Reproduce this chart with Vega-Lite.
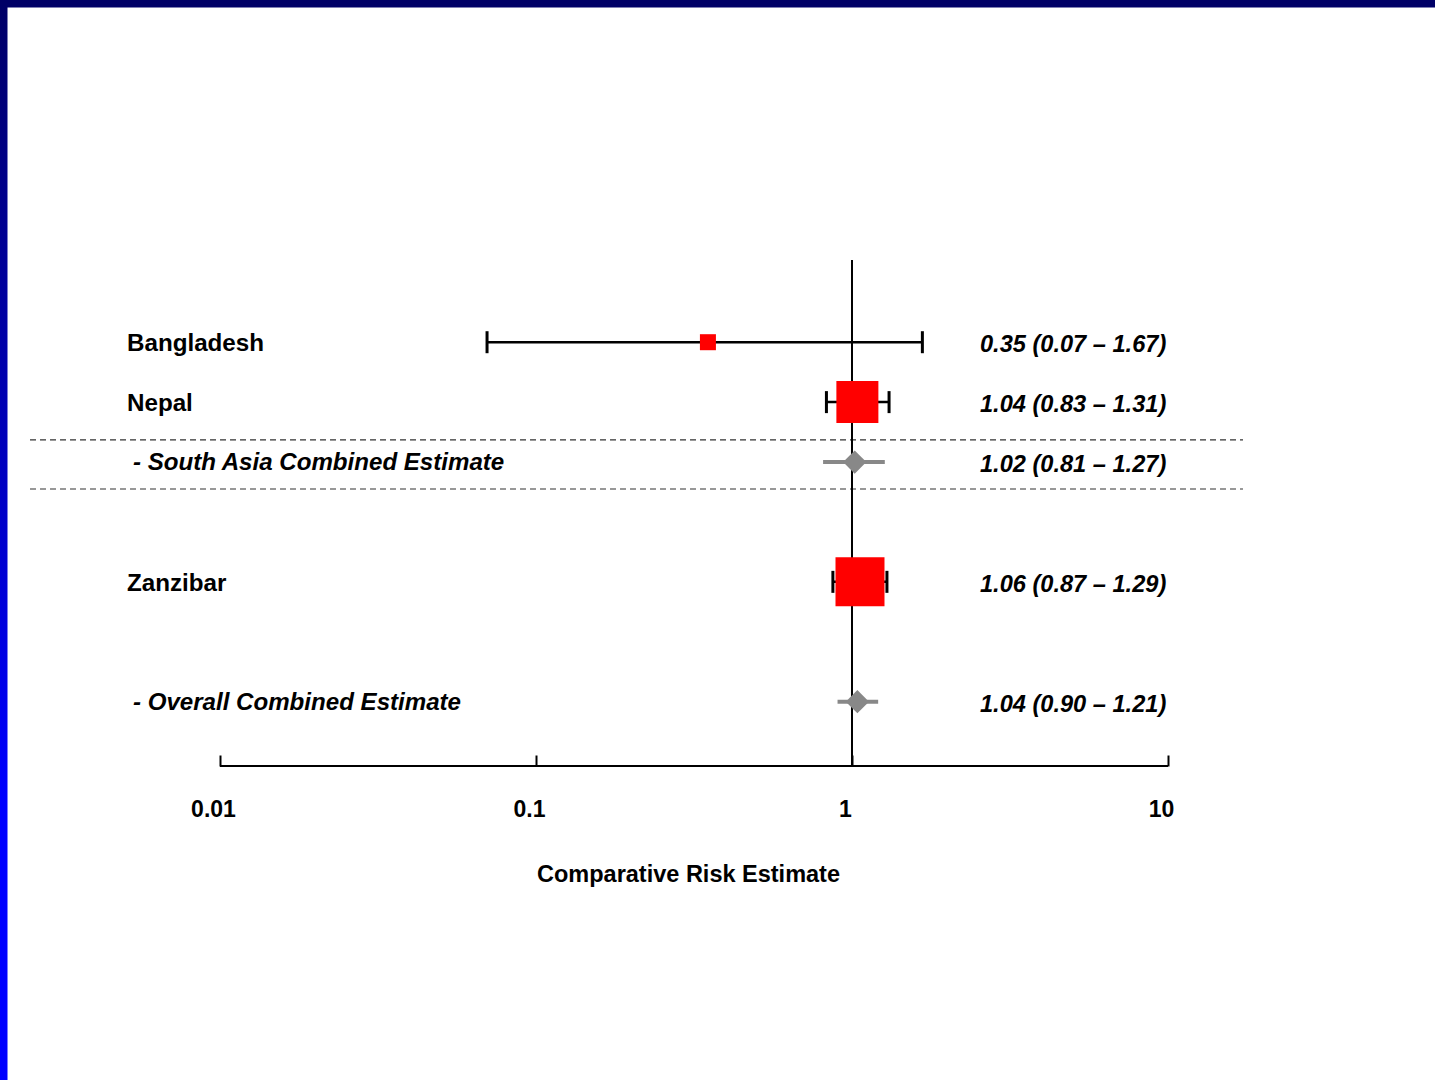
{
  "$schema": "https://vega.github.io/schema/vega-lite/v6.json",
  "width": 1435,
  "height": 1080,
  "padding": 0,
  "autosize": {"type": "none"},
  "background": "#ffffff",
  "config": {
    "view": {
      "fill": "#ffffff",
      "stroke": {"gradient": "linear", "x1": 0, "y1": 0, "x2": 0, "y2": 1, "stops": [{"offset": 0, "color": "#000066"}, {"offset": 0.74, "color": "#0000ff"}, {"offset": 1, "color": "#0000ff"}]},
      "strokeWidth": 15,
      "strokeDash": [1435, 2515, 1080]
    },
    "font": "Liberation Sans",
    "axisX": {
      "domain": false,
      "grid": false,
      "offset": -314,
      "tickSize": -11,
      "tickWidth": 2,
      "tickColor": "#000000",
      "labelFont": "Liberation Sans",
      "labelFontSize": 23,
      "labelFontWeight": "bold",
      "labelColor": "#000000",
      "labelPadding": 43,
      "labelOffset": -7,
      "labelFlush": false,
      "labelOverlap": false,
      "titleFont": "Liberation Sans",
      "titleFontSize": 23.5,
      "titleFontWeight": "bold",
      "titleColor": "#000000",
      "titleX": 688,
      "titleY": 108,
      "titleBaseline": "middle",
      "titleAlign": "center",
      "format": "~g"
    },
    "text": {"font": "Liberation Sans", "fontSize": 23, "fontWeight": "bold", "color": "#000000"}
  },
  "data": {
    "values": [
      {"study": "Bangladesh", "kind": "study", "row": 0, "est": 0.35, "lo": 0.07, "hi": 1.67, "weight": 5.8, "ci": "0.35 (0.07 – 1.67)"},
      {"study": "Nepal", "kind": "study", "row": 1, "est": 1.04, "lo": 0.83, "hi": 1.31, "weight": 39.9, "ci": "1.04 (0.83 – 1.31)"},
      {"study": "- South Asia Combined Estimate", "kind": "pooled", "row": 2, "est": 1.02, "lo": 0.81, "hi": 1.27, "ci": "1.02 (0.81 – 1.27)"},
      {"study": "Zanzibar", "kind": "study", "row": 4, "est": 1.06, "lo": 0.87, "hi": 1.29, "weight": 54.3, "ci": "1.06 (0.87 – 1.29)"},
      {"study": "- Overall Combined Estimate", "kind": "pooled", "row": 6, "est": 1.04, "lo": 0.90, "hi": 1.21, "ci": "1.04 (0.90 – 1.21)"}
    ]
  },
  "layer": [
    {
      "data": {"values": [{}]},
      "mark": {"type": "rule", "color": "#333333", "strokeWidth": 1.2, "strokeDash": [6, 4]},
      "encoding": {
        "x": {"datum": 0.002505, "type": "quantitative", "scale": {"type": "log", "domain": [0.002013, 69.97], "nice": false}, "axis": {"title": "Comparative Risk Estimate", "values": [0.01, 0.1, 1, 10], "labelOffset": -7}},
        "x2": {"datum": 17.27},
        "y": {"datum": 1.631, "type": "quantitative", "scale": {"domain": [-5.712, 12.315], "reverse": true, "nice": false, "zero": false}, "axis": null}
      }
    },
    {
      "data": {"values": [{}]},
      "mark": {"type": "rule", "color": "#333333", "strokeWidth": 1.2, "strokeDash": [6, 4]},
      "encoding": {
        "x": {"datum": 0.002505, "type": "quantitative", "scale": {"type": "log", "domain": [0.002013, 69.97], "nice": false}, "axis": {"title": "Comparative Risk Estimate", "values": [0.01, 0.1, 1, 10], "labelOffset": -7}},
        "x2": {"datum": 17.27},
        "y": {"datum": 2.45, "type": "quantitative", "scale": {"domain": [-5.712, 12.315], "reverse": true, "nice": false, "zero": false}, "axis": null}
      }
    },
    {
      "data": {"values": [{}]},
      "mark": {"type": "rule", "color": "#000000", "strokeWidth": 2},
      "encoding": {
        "x": {"datum": 1, "type": "quantitative", "scale": {"type": "log", "domain": [0.002013, 69.97], "nice": false}, "axis": {"title": "Comparative Risk Estimate", "values": [0.01, 0.1, 1, 10], "labelOffset": -7}},
        "y": {"datum": -1.372, "type": "quantitative", "scale": {"domain": [-5.712, 12.315], "reverse": true, "nice": false, "zero": false}, "axis": null},
        "y2": {"datum": 7.09}
      }
    },
    {
      "data": {"values": [{}]},
      "mark": {"type": "rule", "color": "#000000", "strokeWidth": 2},
      "encoding": {
        "x": {"datum": 0.01, "type": "quantitative", "scale": {"type": "log", "domain": [0.002013, 69.97], "nice": false}, "axis": {"title": "Comparative Risk Estimate", "values": [0.01, 0.1, 1, 10], "labelOffset": -7}},
        "x2": {"datum": 10},
        "y": {"datum": 7.074, "type": "quantitative", "scale": {"domain": [-5.712, 12.315], "reverse": true, "nice": false, "zero": false}, "axis": null}
      }
    },
    {
      "transform": [{"filter": "datum.kind === 'study'"}],
      "mark": {"type": "rule", "color": "#000000", "strokeWidth": 2.5},
      "encoding": {
        "x": {"field": "lo", "type": "quantitative", "scale": {"type": "log", "domain": [0.002013, 69.97], "nice": false}, "axis": {"title": "Comparative Risk Estimate", "values": [0.01, 0.1, 1, 10], "labelOffset": -7}},
        "x2": {"field": "hi"},
        "y": {"field": "row", "type": "quantitative", "scale": {"domain": [-5.712, 12.315], "reverse": true, "nice": false, "zero": false}, "axis": null}
      }
    },
    {
      "transform": [{"filter": "datum.kind === 'study'"}],
      "mark": {"type": "tick", "orient": "vertical", "color": "#000000", "size": 22, "thickness": 3, "opacity": 1},
      "encoding": {
        "x": {"field": "lo", "type": "quantitative", "scale": {"type": "log", "domain": [0.002013, 69.97], "nice": false}, "axis": {"title": "Comparative Risk Estimate", "values": [0.01, 0.1, 1, 10], "labelOffset": -7}},
        "y": {"field": "row", "type": "quantitative", "scale": {"domain": [-5.712, 12.315], "reverse": true, "nice": false, "zero": false}, "axis": null}
      }
    },
    {
      "transform": [{"filter": "datum.kind === 'study'"}],
      "mark": {"type": "tick", "orient": "vertical", "color": "#000000", "size": 22, "thickness": 3, "opacity": 1},
      "encoding": {
        "x": {"field": "hi", "type": "quantitative", "scale": {"type": "log", "domain": [0.002013, 69.97], "nice": false}, "axis": {"title": "Comparative Risk Estimate", "values": [0.01, 0.1, 1, 10], "labelOffset": -7}},
        "y": {"field": "row", "type": "quantitative", "scale": {"domain": [-5.712, 12.315], "reverse": true, "nice": false, "zero": false}, "axis": null}
      }
    },
    {
      "transform": [{"filter": "datum.kind === 'pooled'"}],
      "mark": {"type": "rule", "color": "#888888", "strokeWidth": 4},
      "encoding": {
        "x": {"field": "lo", "type": "quantitative", "scale": {"type": "log", "domain": [0.002013, 69.97], "nice": false}, "axis": {"title": "Comparative Risk Estimate", "values": [0.01, 0.1, 1, 10], "labelOffset": -7}},
        "x2": {"field": "hi"},
        "y": {"field": "row", "type": "quantitative", "scale": {"domain": [-5.712, 12.315], "reverse": true, "nice": false, "zero": false}, "axis": null}
      }
    },
    {
      "transform": [{"filter": "datum.kind === 'study'"}],
      "mark": {"type": "point", "shape": "square", "filled": true, "color": "#ff0000", "opacity": 1},
      "encoding": {
        "x": {"field": "est", "type": "quantitative", "scale": {"type": "log", "domain": [0.002013, 69.97], "nice": false}, "axis": {"title": "Comparative Risk Estimate", "values": [0.01, 0.1, 1, 10], "labelOffset": -7}},
        "y": {"field": "row", "type": "quantitative", "scale": {"domain": [-5.712, 12.315], "reverse": true, "nice": false, "zero": false}, "axis": null},
        "size": {"field": "weight", "type": "quantitative", "scale": {"type": "linear", "domain": [0, 100], "range": [0, 4421], "zero": true}, "legend": null}
      }
    },
    {
      "transform": [{"filter": "datum.kind === 'pooled'"}],
      "mark": {"type": "point", "shape": "diamond", "filled": true, "color": "#888888", "opacity": 1, "size": 540},
      "encoding": {
        "x": {"field": "est", "type": "quantitative", "scale": {"type": "log", "domain": [0.002013, 69.97], "nice": false}, "axis": {"title": "Comparative Risk Estimate", "values": [0.01, 0.1, 1, 10], "labelOffset": -7}},
        "y": {"field": "row", "type": "quantitative", "scale": {"domain": [-5.712, 12.315], "reverse": true, "nice": false, "zero": false}, "axis": null}
      }
    },
    {
      "transform": [{"filter": "datum.kind === 'study'"}],
      "mark": {"type": "text", "align": "left", "baseline": "middle", "dy": 2, "font": "Liberation Sans", "fontSize": 24.2, "fontWeight": "bold", "color": "#000000"},
      "encoding": {
        "x": {"datum": 0.005077, "type": "quantitative", "scale": {"type": "log", "domain": [0.002013, 69.97], "nice": false}, "axis": {"title": "Comparative Risk Estimate", "values": [0.01, 0.1, 1, 10], "labelOffset": -7}},
        "y": {"field": "row", "type": "quantitative", "scale": {"domain": [-5.712, 12.315], "reverse": true, "nice": false, "zero": false}, "axis": null},
        "text": {"field": "study"}
      }
    },
    {
      "transform": [{"filter": "datum.kind === 'pooled'"}],
      "mark": {"type": "text", "align": "left", "baseline": "middle", "dx": 6, "dy": 1, "font": "Liberation Sans", "fontSize": 24.1, "fontWeight": "bold", "fontStyle": "italic", "color": "#000000"},
      "encoding": {
        "x": {"datum": 0.005077, "type": "quantitative", "scale": {"type": "log", "domain": [0.002013, 69.97], "nice": false}, "axis": {"title": "Comparative Risk Estimate", "values": [0.01, 0.1, 1, 10], "labelOffset": -7}},
        "y": {"field": "row", "type": "quantitative", "scale": {"domain": [-5.712, 12.315], "reverse": true, "nice": false, "zero": false}, "axis": null},
        "text": {"field": "study"}
      }
    },
    {
      "mark": {"type": "text", "align": "left", "baseline": "middle", "dy": 3, "font": "Liberation Sans", "fontSize": 23.6, "fontWeight": "bold", "fontStyle": "italic", "color": "#000000"},
      "encoding": {
        "x": {"datum": 2.541, "type": "quantitative", "scale": {"type": "log", "domain": [0.002013, 69.97], "nice": false}, "axis": {"title": "Comparative Risk Estimate", "values": [0.01, 0.1, 1, 10], "labelOffset": -7}},
        "y": {"field": "row", "type": "quantitative", "scale": {"domain": [-5.712, 12.315], "reverse": true, "nice": false, "zero": false}, "axis": null},
        "text": {"field": "ci"}
      }
    }
  ]
}
